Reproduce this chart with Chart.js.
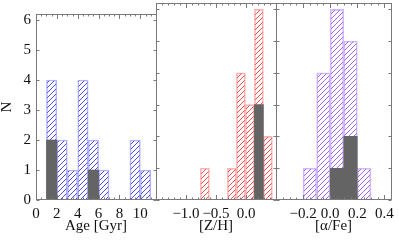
<!DOCTYPE html>
<html><head><meta charset="utf-8">
<script src="https://cdn.jsdelivr.net/npm/chart.js@4/dist/chart.umd.min.js"></script>
<style>
html,body{margin:0;padding:0;background:#fff;}
#wrap{position:relative;width:399px;height:243px;overflow:hidden;}
canvas{position:absolute;left:0;top:0;}
</style></head><body>
<div id="wrap">
<canvas id="c1" width="399" height="243"></canvas>
<canvas id="c2" width="399" height="243"></canvas>
<canvas id="c3" width="399" height="243"></canvas>
</div>
<script>
// ---- data ----
const yTicks = [0, 1, 2, 3, 4, 5, 6];

const ageBins    = [1.5, 2.5, 3.5, 4.5, 5.5, 6.5, 9.5, 10.5];
const ageAll     = [4, 2, 1, 4, 2, 1, 2, 1];
const ageSubBins = [1.5, 5.5];
const ageSub     = [2, 1];
const ageTicks   = [0, 2, 4, 6, 8, 10];

const zhBins    = [-0.685, -0.235, -0.085, 0.065, 0.215, 0.365];
const zhAll     = [1, 1, 4, 3, 6, 2];
const zhSubBins = [0.215];
const zhSub     = [3];
const zhTicks   = [-1.0, -0.5, 0.0];

const afeBins    = [-0.15, -0.05, 0.05, 0.15, 0.25];
const afeAll     = [1, 4, 6, 5, 1];
const afeSubBins = [0.05, 0.15];
const afeSub     = [1, 2];
const afeTicks   = [-0.2, 0.0, 0.2, 0.4];

// ---- helpers ----
const FONT = 'Liberation Serif';
function hatch(ctx, color) {
  const s = 5;
  const c = document.createElement('canvas');
  c.width = s; c.height = s;
  const g = c.getContext('2d');
  g.strokeStyle = color; g.lineWidth = 1;
  g.beginPath();
  g.moveTo(-1, s + 1); g.lineTo(s + 1, -1);
  g.moveTo(-1, 1); g.lineTo(1, -1);
  g.moveTo(s - 1, s + 1); g.lineTo(s + 1, s - 1);
  g.stroke();
  return ctx.createPattern(c, 'repeat');
}
function fmt(v, dec) {
  let s = Number(v).toFixed(dec);
  if (Number(s) === 0) s = (0).toFixed(dec);
  return s.replace('-', '\u2212');
}

const framePlugin = {
  id: 'frame',
  afterDraw(chart, args, o) {
    const {ctx, chartArea: a, scales: {x, y}} = chart;
    ctx.save();
    ctx.strokeStyle = '#7a7a7a';
    ctx.lineWidth = 1;
    const L = Math.round(a.left) + 0.5, R = Math.round(a.right) + 0.5;
    const T = Math.round(a.top) + 0.5, B = Math.round(a.bottom) - 0.5;
    ctx.strokeRect(L, T, R - L, B - T);
    ctx.beginPath();
    o.major.forEach(v => {
      const px = Math.round(x.getPixelForValue(v)) + 0.5;
      ctx.moveTo(px, B); ctx.lineTo(px, B - 4.5);
      ctx.moveTo(px, T); ctx.lineTo(px, T + 4.5);
    });
    const n = Math.round((o.max - o.min) / o.minor);
    for (let i = 0; i <= n; i++) {
      const v = o.min + i * o.minor;
      const px = Math.round(x.getPixelForValue(v)) + 0.5;
      ctx.moveTo(px, B); ctx.lineTo(px, B - 2);
      ctx.moveTo(px, T); ctx.lineTo(px, T + 2);
    }
    yTicks.forEach(v => {
      const py = Math.round(y.getPixelForValue(v)) + 0.5;
      ctx.moveTo(L, py); ctx.lineTo(L + 3, py);
      ctx.moveTo(R, py); ctx.lineTo(R - 3, py);
    });
    ctx.stroke();
    ctx.restore();
  }
};

function makeChart(id, cfg) {
  const cv = document.getElementById(id);
  const ctx = cv.getContext('2d');
  const yScale = {
    min: 0, max: 6.2, display: cfg.showY,
    grid: {display: false, drawTicks: false}, border: {display: false},
    afterBuildTicks: s => { s.ticks = yTicks.map(v => ({value: v})); },
    ticks: {
      autoSkip: false, padding: 5, color: '#111',
      font: {family: FONT, size: 15}
    },
    title: {
      display: true, text: 'N', color: '#111',
      font: {family: FONT, size: 15, lineHeight: 1},
      padding: {top: 0, bottom: 0}
    }
  };
  if (cfg.showY) yScale.afterFit = s => { s.width = 36; };
  return new Chart(ctx, {
    type: 'bar',
    plugins: [framePlugin],
    data: {
      datasets: [
        {
          data: cfg.subBins.map((b, i) => ({x: b, y: cfg.sub[i]})),
          backgroundColor: '#646464', borderWidth: 0, grouped: false,
          barPercentage: 1, categoryPercentage: 1
        },
        {
          data: cfg.bins.map((b, i) => ({x: b, y: cfg.all[i]})),
          backgroundColor: hatch(ctx, cfg.line), borderColor: cfg.border,
          borderWidth: 1, grouped: false,
          barPercentage: 1, categoryPercentage: 1
        }
      ]
    },
    options: {
      responsive: false, animation: false, events: [],
      layout: {padding: {left: cfg.pl, right: cfg.pr, top: 3, bottom: 0}},
      plugins: {
        legend: {display: false}, tooltip: {enabled: false},
        frame: {major: cfg.ticks, minor: cfg.minor, min: cfg.min, max: cfg.max}
      },
      scales: {
        x: {
          type: 'linear', min: cfg.min, max: cfg.max, offset: false,
          grid: {display: false, drawTicks: false}, border: {display: false},
          afterBuildTicks: s => { s.ticks = cfg.ticks.map(v => ({value: v})); },
          afterFit: s => { s.height = 43; },
          ticks: {
            autoSkip: false, minRotation: 0, maxRotation: 0, padding: 5,
            color: '#111', font: {family: FONT, size: 15},
            callback: v => fmt(v, cfg.dec)
          },
          title: {
            display: true, text: cfg.title, color: '#111',
            font: {family: FONT, size: 15, lineHeight: 1},
            padding: {top: 0, bottom: 9}
          }
        },
        y: yScale
      }
    }
  });
}

makeChart('c1', {
  bins: ageBins, all: ageAll, subBins: ageSubBins, sub: ageSub, ticks: ageTicks,
  min: 0, max: 11.5, minor: 0.5, dec: 0, title: 'Age [Gyr]',
  line: '#4a4aff', border: '#b4b4ff', pl: 0, pr: 243, showY: true
});
makeChart('c2', {
  bins: zhBins, all: zhAll, subBins: zhSubBins, sub: zhSub, ticks: zhTicks,
  min: -1.5, max: 0.5, minor: 0.1, dec: 1, title: '[Z/H]',
  line: '#ff4a4a', border: '#ffb4b4', pl: 156, pr: 123, showY: false
});
makeChart('c3', {
  bins: afeBins, all: afeAll, subBins: afeSubBins, sub: afeSub, ticks: afeTicks,
  min: -0.4, max: 0.45, minor: 0.05, dec: 1, title: '[\u03b1/Fe]',
  line: '#a064ff', border: '#d4b8ff', pl: 276, pr: 4, showY: false
});
</script>
</body></html>
